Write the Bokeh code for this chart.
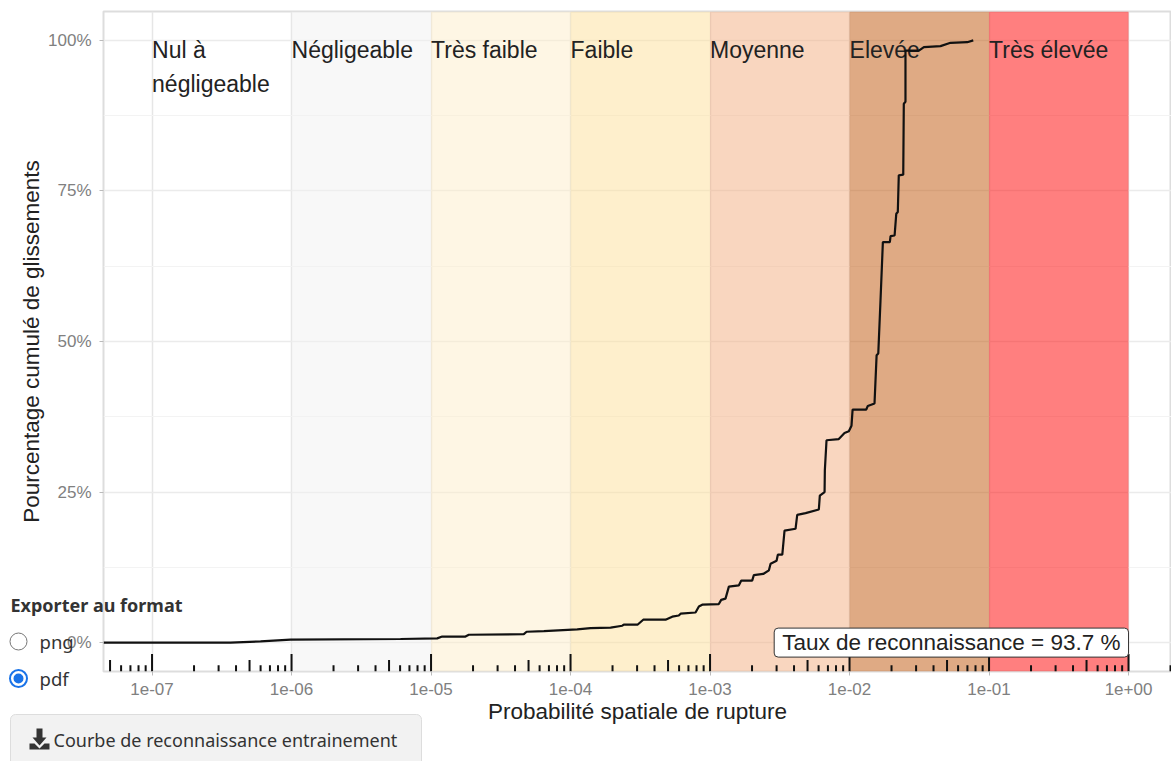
from bokeh.embed import file_html
from bokeh.resources import INLINE
from bokeh.plotting import figure
from bokeh.models import Range1d, FixedTicker, Label, BoxAnnotation, CustomJSTickFormatter
from bokeh.core.properties import value

# ---- data -----------------------------------------------------------------
log10_prob = [-7.348, -6.437, -6.222, -6.007, -5.219, -4.956, -4.920, -4.753, -4.729, -4.335,
              -4.315, -4.191, -3.952, -3.857, -3.713, -3.629, -3.618, -3.518, -3.479, -3.319,
              -3.271, -3.224, -3.211, -3.104, -3.080, -3.056, -2.937, -2.920, -2.889, -2.865,
              -2.794, -2.776, -2.698, -2.686, -2.619, -2.578, -2.566, -2.523, -2.514, -2.482,
              -2.466, -2.387, -2.375, -2.315, -2.220, -2.213, -2.179, -2.177, -2.165, -2.077,
              -2.036, -2.005, -1.986, -1.978, -1.880, -1.869, -1.821, -1.806, -1.794, -1.778,
              -1.761, -1.711, -1.706, -1.677, -1.665, -1.654, -1.647, -1.615, -1.611, -1.599,
              -1.599, -1.503, -1.467, -1.348, -1.276, -1.156, -1.113]
cum_pct = [0.0, 0.0, 0.2, 0.5, 0.6, 0.7, 1.0, 1.0, 1.3, 1.4,
           1.8, 1.9, 2.2, 2.4, 2.5, 2.8, 3.0, 3.0, 3.8, 3.8,
           4.3, 4.5, 4.8, 5.0, 6.0, 6.3, 6.4, 7.1, 7.3, 9.3,
           9.5, 10.3, 10.3, 11.2, 11.4, 12.0, 13.1, 13.6, 14.6, 14.6,
           18.6, 18.9, 21.2, 21.5, 22.1, 24.4, 25.0, 28.6, 33.6, 33.8,
           34.8, 35.1, 36.0, 38.7, 38.7, 39.3, 39.7, 47.7, 48.0, 56.8,
           66.5, 66.5, 67.5, 67.6, 71.2, 71.5, 77.6, 77.7, 89.5, 89.8,
           98.3, 98.3, 98.9, 99.05, 99.6, 99.7, 100.0]

band_labels = ["Nul à\nnégligeable", "Négligeable", "Très faible", "Faible", "Moyenne", "Elevée", "Très élevée"]
band_left = [1e-7, 1e-6, 1e-5, 1e-4, 1e-3, 1e-2, 1e-1]
band_right = [1e-6, 1e-5, 1e-4, 1e-3, 1e-2, 1e-1, 1e0]
band_colors = ["#ffffff", "#f2f2f2", "#fdeeca", "#fee099", "#f4ad80", "#bf5509", "#ff0000"]
band_alpha = [0.0, 0.5, 0.5, 0.5, 0.5, 0.5, 0.5]

x_ticks = [1e-7, 1e-6, 1e-5, 1e-4, 1e-3, 1e-2, 1e-1, 1e0]
y_ticks = [0, 25, 50, 75, 100]
y_minor = [12.5, 37.5, 62.5, 87.5]
decades = [-8, -7, -6, -5, -4, -3, -2, -1, 0]
multipliers = [1, 2, 3, 4, 5, 6, 7, 8, 9]
rate_text = "Taux de reconnaissance = 93.7 %"

# ---- figure ---------------------------------------------------------------
FONT = "Liberation Sans"
UI = "Noto Sans"
W, H = 1171, 761
p = figure(width=W, height=H, output_backend="svg", toolbar_location=None,
           x_axis_type="log",
           x_range=Range1d(10 ** -7.348, 10 ** 0.308), y_range=Range1d(-4.8, 104.8),
           min_border_left=103, min_border_right=0, min_border_top=11, min_border_bottom=90,
           x_axis_label="Probabilité spatiale de rupture",
           y_axis_label="Pourcentage cumulé de glissements", margin=0)
p.background_fill_color = "#ffffff"
p.border_fill_color = "#ffffff"
p.outline_line_color = "#dddddd"
p.outline_line_width = 2

# axes
p.xaxis.ticker = FixedTicker(ticks=x_ticks, minor_ticks=[])
p.xaxis.formatter = CustomJSTickFormatter(code="""
  const e = Math.round(Math.log10(tick));
  const a = Math.abs(e).toString().padStart(2, '0');
  return '1e' + (e < 0 ? '-' : '+') + a;
""")
p.yaxis.ticker = FixedTicker(ticks=y_ticks, minor_ticks=y_minor)
p.yaxis.formatter = CustomJSTickFormatter(code="return tick + '%';")
for ax in (p.xaxis[0], p.yaxis[0]):
    ax.axis_line_color = None
    ax.major_tick_line_color = "#bbbbbb"
    ax.major_tick_out = 4
    ax.major_tick_in = 0
    ax.minor_tick_line_color = None
    ax.major_label_text_font = FONT
    ax.major_label_text_font_size = "17px"
    ax.major_label_text_color = "#808080"
    ax.axis_label_text_font = FONT
    ax.axis_label_text_font_size = "22.5px"
    ax.axis_label_text_font_style = "normal"
    ax.axis_label_text_color = "#222222"
p.xaxis.major_label_standoff = 7
p.xaxis.axis_label_standoff = 1
p.yaxis.major_label_standoff = 8
p.yaxis.axis_label_standoff = 1

# grid
p.xgrid.grid_line_color = "#e6e6e6"
p.xgrid.grid_line_width = 1.5
p.xgrid.minor_grid_line_color = None
p.ygrid.grid_line_color = "#ebebeb"
p.ygrid.grid_line_width = 1.5
p.ygrid.minor_grid_line_color = "#f3f3f3"
p.ygrid.minor_grid_line_width = 1.2

# susceptibility bands
p.quad(left=band_left, right=band_right, bottom=-4.8, top=104.8,
       fill_color=band_colors, fill_alpha=band_alpha, line_color=None)

# log ticks along the bottom
rx, ry = [], []
for d in decades:
    for m in multipliers:
        rx.append(m * 10.0 ** d)
        ry.append(-4.8 + (2.9 if m == 1 else 1.9 if m == 5 else 1.05))
p.segment(x0=rx, x1=rx, y0=-4.8, y1=ry, line_color="#111111", line_width=2)

# band labels
p.text(x=band_left, y=[100.6] * 7, text=band_labels, text_font=value(FONT), text_font_size="23px",
       text_baseline="top", text_align="left", text_color="#222222", text_line_height=1.3)

# curve
p.line(x=[10 ** v for v in log10_prob], y=cum_pct, line_color="#111111", line_width=2.2)

# rate label
p.add_layout(Label(x=1.0, y=0.0, text=rate_text, text_font=FONT, text_font_size="22.5px",
                   text_color="#222222", text_align="right", text_baseline="middle",
                   background_fill_color="#ffffff", border_line_color="#333333", border_line_width=1,
                   border_radius=4, padding=(8, 2)))

# ---- shiny controls that sit over the chart: a transparent pixel-scaled figure ----
o = figure(width=W, height=H, output_backend="svg", toolbar_location=None,
           x_range=Range1d(0, W), y_range=Range1d(H, 0), x_axis_location=None, y_axis_location=None,
           min_border=0, min_border_left=0, min_border_right=0, min_border_top=0, min_border_bottom=0,
           background_fill_color=None, border_fill_color=None, outline_line_color=None,
           margin=(-H, 0, 0, 0))
o.grid.visible = False

o.add_layout(BoxAnnotation(left=10, right=421, top=714, bottom=790, fill_color="#f2f2f2", fill_alpha=1,
                           line_color="#dddddd", line_alpha=1, line_width=1, border_radius=5,
                           editable=False, level="underlay"))
o.circle(x=[18], y=[641], radius=8.5, fill_color="#ffffff", line_color="#767676", line_width=1)
o.circle(x=[18], y=[678], radius=8.5, fill_color="#ffffff", line_color="#1a73e8", line_width=2)
o.circle(x=[18], y=[678], radius=5, fill_color="#1a73e8", line_color=None)


def ui_text(x, y, s, size, style="normal"):
    o.text(x=[x], y=[y], text=[s], text_font=value(UI), text_font_size=size, text_color="#333333",
           text_font_style=style, text_align="left", text_baseline="middle")


ui_text(10, 604, "Exporter au format", "18px", "bold")
ui_text(39, 641, "png", "18.5px")
ui_text(39, 678, "pdf", "18.5px")
ui_text(53, 739, "Courbe de reconnaissance entrainement", "18px")
o.patch(x=[36, 42, 42, 46, 39, 32, 36], y=[728, 728, 737, 737, 745, 737, 737], fill_color="#333333", line_color=None)
o.patch(x=[29, 34, 39, 44, 49, 49, 29], y=[743, 743, 748, 743, 743, 749, 749], fill_color="#333333", line_color=None)

open("out.html", "w").write(file_html([p, o], INLINE))
